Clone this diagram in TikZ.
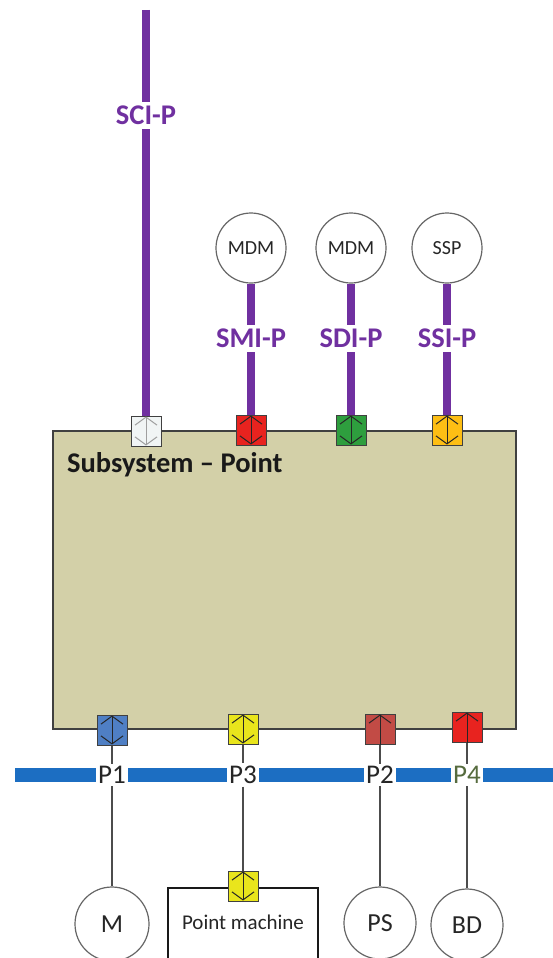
\documentclass[tikz,border=0pt]{standalone}
\usepackage{fontspec}
\setmainfont{Carlito}
\usetikzlibrary{arrows.meta}

\definecolor{ifpurple}{HTML}{7030A0}
\definecolor{boxfill}{HTML}{D3D0A8}
\definecolor{trackblue}{HTML}{1C6EC2}
\definecolor{pwhite}{HTML}{F1F5F5}
\definecolor{pred}{HTML}{E8231F}
\definecolor{pgreen}{HTML}{2E9E3E}
\definecolor{porange}{HTML}{FDBE14}
\definecolor{pblue}{HTML}{4F7FC4}
\definecolor{pyellow}{HTML}{E9E51C}
\definecolor{pbrick}{HTML}{C24B45}
\definecolor{polive}{HTML}{566B3E}

\tikzset{
  port/.style={draw=black!75, line width=1pt, minimum size=30pt, inner sep=0pt, fill=#1},
  unit/.style={circle, draw=black!60, line width=1.2pt, fill=white, inner sep=0pt, minimum size=#1, text=black!85, font=\fontsize{26}{30}\selectfont},
  unit/.default=72pt,
  iface/.style={ifpurple, line width=8.5pt},
  iflabel/.style={fill=white, text=ifpurple, inner xsep=2pt, inner ysep=4pt, font=\fontsize{28.5}{32}\selectfont\bfseries},
  plabel/.style={fill=white, inner sep=2.5pt, text=black!85, font=\fontsize{27}{30}\selectfont},
  wire/.style={black!70, line width=1.3pt},
  twoway/.style={{Straight Barb[length=8pt,width=22pt]}-{Straight Barb[length=8pt,width=22pt]}, line width=1pt, shorten <=1pt, shorten >=1pt},
  oneway/.style={-{Straight Barb[length=8pt,width=22pt]}, line width=1pt, shorten >=1pt},
}

\begin{document}
\begin{tikzpicture}[x=1pt, y=-1pt]
\useasboundingbox[fill=white] (0,0) rectangle (553,958);

% subsystem block
\node (sub) [draw=black!75, line width=1.6pt, fill=boxfill, minimum width=463pt, minimum height=298pt, inner sep=0pt] at (284.5,580) {};
\node (title) [anchor=base west, inner sep=0pt, text=black!90, font=\fontsize{28.5}{32}\selectfont\bfseries] at (67,472) {Subsystem -- Point};

% interfaces on top
\coordinate (scitop) at (146,10);
\node (sci) [port=pwhite] at (146,431) {};
\draw[iface] (scitop) -- (sci) node[iflabel, pos=.26] {SCI-P};
\draw[twoway, gray!75] (sci.south) -- (sci.north);

\foreach \n/\x/\c/\d/\l in {smi/251/pred/MDM/SMI-P, sdi/351/pgreen/MDM/SDI-P, ssi/447/porange/SSP/SSI-P} {
  \node (\n) [port=\c] at (\x,430) {};
  \node (\n dev) [unit=70pt, font=\fontsize{20}{24}\selectfont] at (\x,248) {\d};
  \draw[iface] (\n dev) -- (\n) node[iflabel, pos=.42] {\l};
  \draw[twoway, black!85] (\n.south) -- (\n.north);
}

% ports at the bottom
\foreach \n/\x/\y/\c/\t in {p1/112/730/pblue/twoway, p3/243/729/pyellow/twoway, p2/380/729/pbrick/oneway, p4/467/727/pred/oneway} {
  \node (\n) [port=\c] at (\x,\y) {};
  \draw[\t, black!85] (\n.south) -- (\n.north);
}

% track
\draw[trackblue, line width=14pt] (15,775) -- (553,775);
\node (l1) [plabel] at (112,775) {P1};
\node (l3) [plabel] at (243,775) {P3};
\node (l2) [plabel] at (380,775) {P2};
\node (l4) [plabel, text=polive] at (467,775) {P4};

% field elements
\node (m) [unit=74pt] at (112,924) {M};
\node (ps) [unit] at (380,923) {PS};
\node (bd) [unit] at (467,925) {BD};
\node (pm) [draw=black!90, line width=1.5pt, minimum width=150pt, minimum height=90pt, inner sep=0pt, anchor=north] at (243,887) {};
\node (pmtext) [text=black!85, font=\fontsize{21}{24}\selectfont] at (243,922) {Point machine};
\node (pmport) [port=pyellow] at (243,886) {};
\draw[twoway, black!85] (pmport.south) -- (pmport.north);

\draw[wire] (p1) -- (l1);
\draw[wire] (l1) -- (m);
\draw[wire] (p3) -- (l3);
\draw[wire] (l3) -- (pmport);
\draw[wire] (p2) -- (l2);
\draw[wire] (l2) -- (ps);
\draw[wire] (p4) -- (l4);
\draw[wire] (l4) -- (bd);
\end{tikzpicture}
\end{document}
